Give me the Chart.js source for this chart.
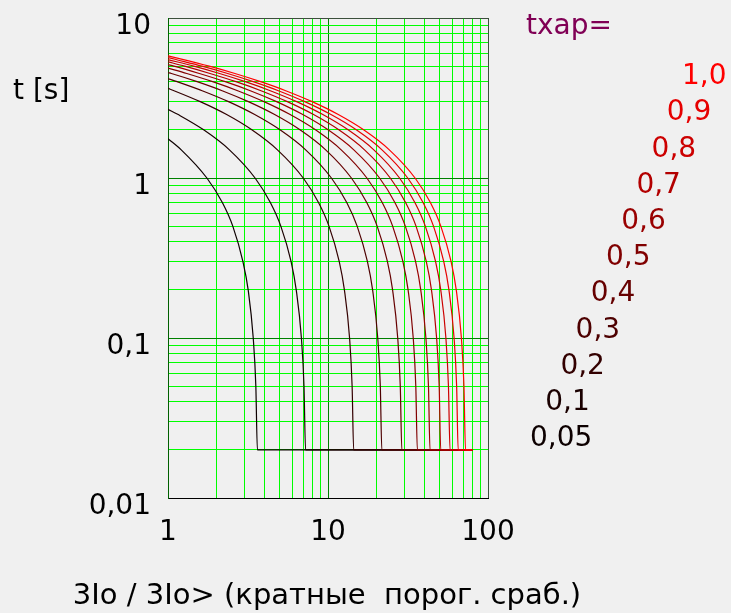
<!DOCTYPE html>
<html>
<head>
<meta charset="utf-8">
<script src="https://cdn.jsdelivr.net/npm/chart.js@4.4.0/dist/chart.umd.min.js"></script>
<style>
    html, body { margin: 0; padding: 0; background: #f0f0f0; }
    #wrap { width: 731px; height: 613px; position: relative; }
</style>
</head>
<body>
<div id="wrap"><canvas id="chart"></canvas></div>
<script>
// уставки времени (txap) и цвета кривых
const kLabels = ['0,05', '0,1', '0,2', '0,3', '0,4', '0,5', '0,6', '0,7', '0,8', '0,9', '1,0'];
const kColors = ['#0d0000', '#1a0000', '#330000', '#4d0000', '#660000', '#800000',
                 '#990000', '#b30000', '#cc0000', '#e60000', '#ff0000'];

// время при 3Io/3Io> = 1
const tStart = [1.76, 2.69, 3.63, 4.18, 4.56, 4.86, 5.11, 5.32, 5.50, 5.66, 5.80];

// уровни времени, на которых сняты точки кривых
const tLevels = [5.5, 5, 4.5, 4, 3.5, 3, 2.5, 2, 1.5, 1, 0.7, 0.5, 0.3, 0.2, 0.1, 0.05, 0.02];

// кратность тока на каждом уровне (null - выше начала кривой)
const x005 = [null, null, null, null, null, null, null, null, 1.21, 1.75, 2.19, 2.54, 2.94, 3.17, 3.41, 3.54, 3.62];
const x01 = [null, null, null, null, null, null, 1.15, 1.67, 2.42, 3.5, 4.37, 5.07, 5.88, 6.33, 6.82, 7.08, 7.24];
const x02 = [null, null, null, null, 1.10, 1.59, 2.31, 3.34, 4.83, 7.0, 8.74, 10.14, 11.76, 12.66, 13.64, 14.15, 14.47];
const x03 = [null, null, null, 1.14, 1.65, 2.39, 3.46, 5.01, 7.25, 10.5, 13.12, 15.21, 17.64, 19.0, 20.46, 21.23, 21.7];
const x04 = [null, null, 1.05, 1.52, 2.2, 3.18, 4.61, 6.68, 9.67, 14.0, 17.49, 20.28, 23.52, 25.33, 27.28, 28.3, 28.94];
const x05 = [null, null, 1.31, 1.9, 2.75, 3.98, 5.76, 8.35, 12.09, 17.5, 21.86, 25.35, 29.4, 31.66, 34.1, 35.38, 36.18];
const x06 = [null, 1.09, 1.57, 2.28, 3.3, 4.77, 6.91, 10.01, 14.5, 21.0, 26.23, 30.42, 35.28, 37.99, 40.91, 42.46, 43.41];
const x07 = [null, 1.27, 1.83, 2.66, 3.85, 5.57, 8.07, 11.68, 16.92, 24.5, 30.6, 35.49, 41.16, 44.32, 47.73, 49.53, 50.65];
const x08 = [null, 1.45, 2.1, 3.04, 4.4, 6.37, 9.22, 13.35, 19.34, 28.0, 34.98, 40.56, 47.04, 50.66, 54.55, 56.6, 57.9];
const x09 = [1.12, 1.63, 2.36, 3.41, 4.94, 7.16, 10.37, 15.02, 21.75, 31.5, 39.35, 45.63, 52.92, 56.99, 61.37, 63.68, 65.1];
const x10 = [1.25, 1.81, 2.62, 3.79, 5.49, 7.96, 11.52, 16.69, 24.17, 35.0, 43.72, 50.7, 58.8, 63.32, 68.19, 70.76, 72.35];
const curveX = [x005, x01, x02, x03, x04, x05, x06, x07, x08, x09, x10];

// минимальное время и конец горизонтального участка
const tMin = 0.02;
const xEnd = 80;

// деления осей
const xTicks = [1, 2, 3, 4, 5, 6, 7, 8, 9, 10, 20, 30, 40, 50, 60, 70, 80, 90, 100];
const xDecades = [1, 10, 100];
const xDecadeLabels = ['1', '10', '100'];
const yTicks = [0.01, 0.02, 0.03, 0.04, 0.05, 0.06, 0.07, 0.08, 0.09,
                0.1, 0.2, 0.3, 0.4, 0.5, 0.6, 0.7, 0.8, 0.9,
                1, 2, 3, 4, 5, 6, 7, 8, 9, 10];
const yDecades = [0.01, 0.1, 1, 10];
const yDecadeLabels = ['0,01', '0,1', '1', '10'];

const xTitle = '3Io / 3Io> (кратные  порог. сраб.)';
const yTitle = 't [s]';
const legendTitle = 'txap=';

const FONT = '"DejaVu Sans", sans-serif';

function buildPoints(i) {
    const pts = [{ x: 1, y: tStart[i] }];
    curveX[i].forEach((x, j) => {
        if (x !== null) pts.push({ x: x, y: tLevels[j] });
    });
    pts.push({ x: xEnd, y: tMin });
    return pts;
}

const datasets = kLabels.map((lab, i) => ({
    label: lab,
    data: buildPoints(i),
    borderColor: kColors[i],
    borderWidth: 1.2,
    pointRadius: 0,
    fill: false,
    cubicInterpolationMode: 'monotone',
    order: kLabels.length - i
}));

function gridColor(decades, edge) {
    return function(ctx) {
        const v = ctx.tick ? ctx.tick.value : null;
        if (v === edge) return '#3c503c';
        return decades.includes(v) ? '#008000' : '#00ff00';
    };
}

const textPlugin = {
    id: 'freeText',
    afterDraw(chart) {
        const ctx = chart.ctx;
        ctx.save();
        ctx.font = '28px ' + FONT;
        ctx.textBaseline = 'middle';
        ctx.textAlign = 'left';
        ctx.fillStyle = '#000000';
        ctx.fillText(yTitle, 13, 92);
        ctx.fillStyle = '#800055';
        ctx.fillText(legendTitle, 526, 27);
        kLabels.forEach((lab, i) => {
            ctx.fillStyle = kColors[i];
            ctx.fillText(lab, 530 + 15.2 * i, 439 - 36.2 * i);
        });
        ctx.font = '29px ' + FONT;
        ctx.textAlign = 'center';
        ctx.fillStyle = '#000000';
        ctx.fillText(xTitle, 327, 596);
        ctx.restore();
    }
};

new Chart(document.getElementById('chart'), {
    type: 'line',
    data: { datasets: datasets },
    plugins: [textPlugin],
    options: {
        responsive: true,
        maintainAspectRatio: false,
        animation: false,
        layout: { padding: { left: 0, top: 18, right: 243, bottom: 0 } },
        plugins: {
            legend: { display: false },
            tooltip: { enabled: false }
        },
        scales: {
            x: {
                type: 'logarithmic',
                min: 1,
                max: 100,
                afterBuildTicks: s => { s.ticks = xTicks.map(v => ({ value: v })); },
                afterFit: s => {
                    s.height = 115;
                    s.paddingLeft = 0;
                    s.paddingRight = 0;
                },
                grid: { color: gridColor(xDecades, 100), lineWidth: 1, drawTicks: false },
                border: { color: '#000000', width: 1 },
                ticks: {
                    autoSkip: false,
                    maxRotation: 0,
                    padding: 18,
                    color: '#000000',
                    font: { family: FONT, size: 28 },
                    callback: v => {
                        const k = xDecades.indexOf(v);
                        return k >= 0 ? xDecadeLabels[k] : '';
                    }
                }
            },
            y: {
                type: 'logarithmic',
                min: 0.01,
                max: 10,
                afterBuildTicks: s => { s.ticks = yTicks.map(v => ({ value: v })); },
                afterFit: s => {
                    s.width = 168;
                    s.paddingTop = 0;
                    s.paddingBottom = 0;
                },
                grid: { color: gridColor(yDecades, 10), lineWidth: 1, drawTicks: false },
                border: { color: '#006000', width: 1 },
                ticks: {
                    autoSkip: false,
                    padding: 17,
                    labelOffset: 9,
                    color: '#000000',
                    font: { family: FONT, size: 28 },
                    callback: v => {
                        const k = yDecades.indexOf(v);
                        return k >= 0 ? yDecadeLabels[k] : '';
                    }
                }
            }
        }
    }
});
</script>
</body>
</html>
